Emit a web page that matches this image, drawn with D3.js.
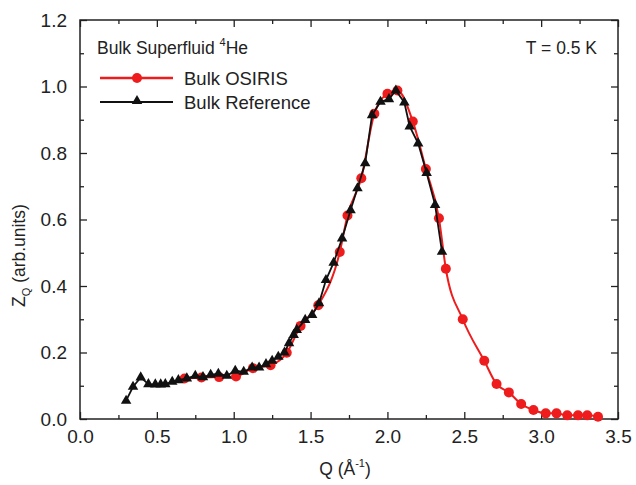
<!DOCTYPE html>
<html><head><meta charset="utf-8">
<script src="https://cdn.jsdelivr.net/npm/d3@7"></script>
<style>body{margin:0;background:#fff;} text{font-family:Arial,"Liberation Sans",Helvetica,sans-serif;}</style>
</head><body>
<svg id="chart" width="636" height="485"></svg>
<script>
// Bulk OSIRIS (red circles)
const osirisQ = [0.68,0.79,0.905,1.015,1.125,1.24,1.345,1.435,1.55,1.69,1.74,1.83,1.915,2.0,2.065,2.165,2.25,2.335,2.38,2.49,2.63,2.71,2.79,2.87,2.95,3.03,3.10,3.17,3.24,3.30,3.37];
const osirisZ = [0.122,0.125,0.126,0.128,0.153,0.162,0.199,0.28,0.342,0.502,0.612,0.724,0.918,0.978,0.988,0.895,0.752,0.604,0.452,0.30,0.175,0.105,0.08,0.045,0.027,0.017,0.017,0.011,0.011,0.011,0.007];
// Bulk Reference (black triangles)
const refQ = [0.30,0.345,0.395,0.445,0.49,0.525,0.555,0.60,0.64,0.695,0.75,0.80,0.85,0.90,0.955,1.01,1.065,1.12,1.165,1.21,1.25,1.29,1.33,1.36,1.39,1.41,1.465,1.51,1.555,1.60,1.65,1.705,1.76,1.805,1.855,1.90,1.955,2.01,2.055,2.11,2.145,2.20,2.255,2.31,2.355];
const refZ = [0.055,0.097,0.125,0.105,0.104,0.104,0.105,0.112,0.117,0.122,0.130,0.126,0.133,0.136,0.130,0.145,0.142,0.155,0.155,0.165,0.175,0.187,0.200,0.228,0.253,0.268,0.298,0.313,0.348,0.418,0.470,0.543,0.628,0.694,0.769,0.914,0.954,0.962,0.988,0.952,0.880,0.829,0.740,0.644,0.503];
const xTicks = [0.0,0.5,1.0,1.5,2.0,2.5,3.0,3.5];
const yTicks = [0.0,0.2,0.4,0.6,0.8,1.0,1.2];
const xMinor = [0.25,0.75,1.25,1.75,2.25,2.75,3.25];
const yMinor = [0.1,0.3,0.5,0.7,0.9,1.1];

const svg = d3.select("#chart");
const x = d3.scaleLinear().domain([0,3.5]).range([80,618]);
const y = d3.scaleLinear().domain([0,1.2]).range([419,20]);
const axisColor = "#222";
const fmt = d3.format(".1f");

function styleAxis(g){ g.select(".domain").remove(); g.selectAll("line").attr("stroke",axisColor).attr("stroke-width",1.3); }

// major & minor ticks, inward, all four sides
svg.append("g").attr("transform","translate(0,419)")
  .call(d3.axisBottom(x).tickValues(xTicks).tickFormat(fmt).tickSizeInner(-7).tickPadding(11))
  .call(styleAxis).call(g=>g.selectAll("text").attr("font-size",19).attr("fill","#222"));
svg.append("g").attr("transform","translate(0,419)")
  .call(d3.axisBottom(x).tickValues(xMinor).tickFormat("").tickSizeInner(-4)).call(styleAxis);
svg.append("g").attr("transform","translate(0,20)")
  .call(d3.axisTop(x).tickValues(xTicks).tickFormat("").tickSizeInner(-7)).call(styleAxis);
svg.append("g").attr("transform","translate(0,20)")
  .call(d3.axisTop(x).tickValues(xMinor).tickFormat("").tickSizeInner(-4)).call(styleAxis);
svg.append("g").attr("transform","translate(80,0)")
  .call(d3.axisLeft(y).tickValues(yTicks).tickFormat(fmt).tickSizeInner(-7).tickPadding(13))
  .call(styleAxis).call(g=>g.selectAll("text").attr("font-size",19).attr("fill","#222"));
svg.append("g").attr("transform","translate(80,0)")
  .call(d3.axisLeft(y).tickValues(yMinor).tickFormat("").tickSizeInner(-4)).call(styleAxis);
svg.append("g").attr("transform","translate(618,0)")
  .call(d3.axisRight(y).tickValues(yTicks).tickFormat("").tickSizeInner(-7)).call(styleAxis);
svg.append("g").attr("transform","translate(618,0)")
  .call(d3.axisRight(y).tickValues(yMinor).tickFormat("").tickSizeInner(-4)).call(styleAxis);

// frame
svg.append("rect").attr("x",80).attr("y",20).attr("width",538).attr("height",399)
  .attr("fill","none").attr("stroke",axisColor).attr("stroke-width",1.5);

// data
const osiris = osirisQ.map((q,i)=>[q,osirisZ[i]]);
const ref = refQ.map((q,i)=>[q,refZ[i]]);
const red = "#ee1c1c";
svg.append("path").datum(osiris)
  .attr("d", d3.line().x(d=>x(d[0])).y(d=>y(d[1])).curve(d3.curveMonotoneX))
  .attr("fill","none").attr("stroke",red).attr("stroke-width",2);
svg.append("g").selectAll("circle").data(osiris).join("circle")
  .attr("cx",d=>x(d[0])).attr("cy",d=>y(d[1])).attr("r",5).attr("fill",red);
svg.append("path").datum(ref)
  .attr("d", d3.line().x(d=>x(d[0])).y(d=>y(d[1])))
  .attr("fill","none").attr("stroke","#111").attr("stroke-width",1.8);
const tri = d3.symbol().type(d3.symbolTriangle).size(48);
svg.append("g").selectAll("path").data(ref).join("path")
  .attr("transform",d=>`translate(${x(d[0])},${y(d[1])})`).attr("d",tri).attr("fill","#111");

// legend & annotations
svg.append("text").attr("x",97).attr("y",54).attr("font-size",17.5).attr("fill","#222")
  .html('Bulk Superfluid <tspan font-size="11" dy="-8">4</tspan><tspan dy="8">He</tspan>');
svg.append("text").attr("x",597).attr("y",54).attr("text-anchor","end").attr("font-size",17.5).attr("fill","#222").text("T = 0.5 K");
svg.append("line").attr("x1",100).attr("x2",173).attr("y1",78).attr("y2",78).attr("stroke",red).attr("stroke-width",2.5);
svg.append("circle").attr("cx",137).attr("cy",78).attr("r",5).attr("fill",red);
svg.append("text").attr("x",184).attr("y",84.5).attr("font-size",18.5).attr("fill","#222").text("Bulk OSIRIS");
svg.append("line").attr("x1",100).attr("x2",173).attr("y1",102).attr("y2",102).attr("stroke","#111").attr("stroke-width",2);
svg.append("path").attr("transform","translate(137,101)").attr("d",tri).attr("fill","#111");
svg.append("text").attr("x",184).attr("y",109).attr("font-size",18.5).attr("fill","#222").text("Bulk Reference");

// axis titles
svg.append("text").attr("x",345).attr("y",475).attr("text-anchor","middle").attr("font-size",17.5).attr("fill","#222")
  .html('Q (Å<tspan font-size="11" dy="-8">-1</tspan><tspan dy="8">)</tspan>');
svg.append("text").attr("transform","translate(25,307) rotate(-90)").attr("font-size",17.5).attr("fill","#222")
  .html('Z<tspan font-size="11" dy="5">Q</tspan><tspan dy="-5"> (arb.units)</tspan>');
</script>
</body></html>
